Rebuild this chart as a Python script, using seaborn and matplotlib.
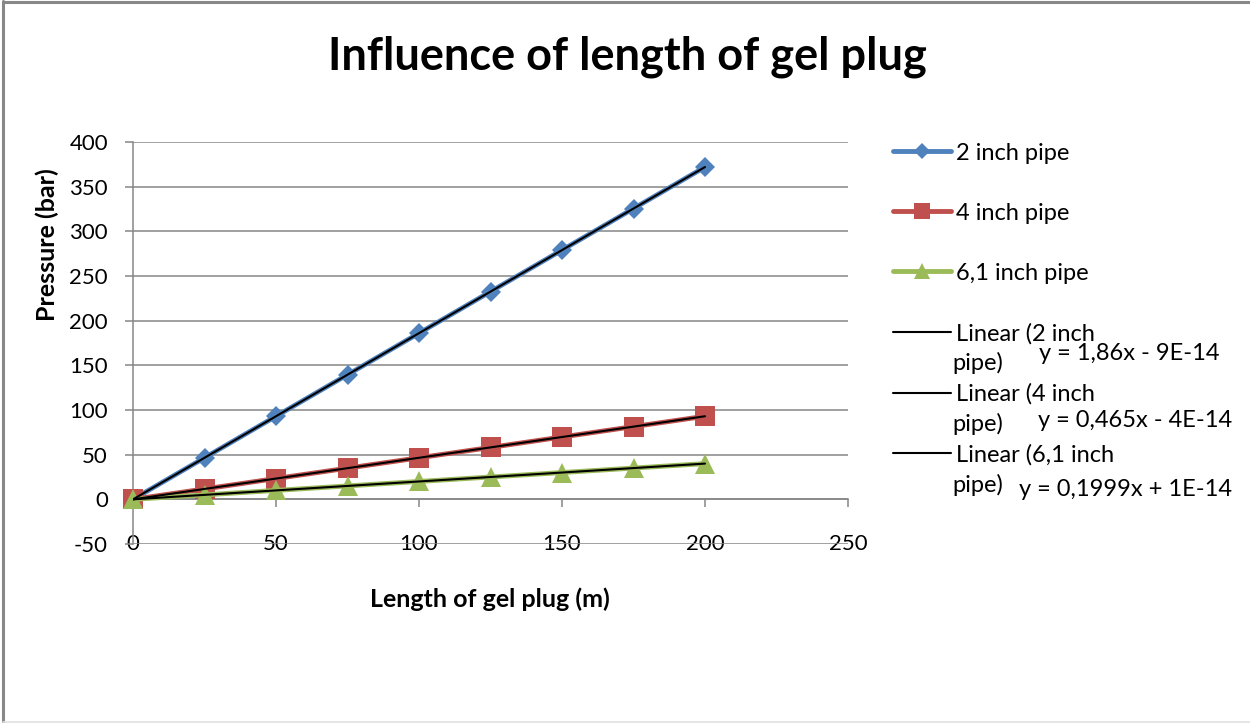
import matplotlib
matplotlib.use("Agg")
import matplotlib.pyplot as plt
from matplotlib.lines import Line2D
import seaborn as sns

# ---- data ----
length_m = [0, 25, 50, 75, 100, 125, 150, 175, 200]
p_2inch = [0, 46.5, 93, 139.5, 186, 232.5, 279, 325.5, 372]
p_4inch = [0, 11.6, 23.3, 34.9, 46.5, 58.1, 69.8, 81.4, 93]
p_61inch = [0, 5, 10, 15, 20, 25, 30, 35, 40]
series_labels = ["2 inch pipe", "4 inch pipe", "6,1 inch pipe"]
trend_labels = ["Linear (2 inch", "Linear (4 inch", "Linear (6,1 inch"]
trend_equations = ["y = 1,86x - 9E-14", "y = 0,465x - 4E-14", "y = 0,1999x + 1E-14"]
y_ticks = [-50, 0, 50, 100, 150, 200, 250, 300, 350, 400]
x_ticks = [0, 50, 100, 150, 200, 250]

sns.set_style("white")
plt.rcParams["font.family"] = ["Lato", "DejaVu Sans"]
for k in ["text.color", "axes.labelcolor", "xtick.labelcolor", "ytick.labelcolor"]:
    plt.rcParams[k] = "black"

W, H = 1250, 723
fig = plt.figure(figsize=(W / 100, H / 100), dpi=100)
fig.patch.set_facecolor("white")

def fx(px):
    return px / W

def fy(py):
    return 1 - py / H

ax = fig.add_axes([fx(133), fy(544), fx(848) - fx(133), fy(142) - fy(544)])

colors = ["#4F81BD", "#C0504D", "#9BBB59"]
markers = ["D", "s", "^"]
msizes = [10, 14, 14]
series = [p_2inch, p_4inch, p_61inch]

for ys, c, m, ms, lab in zip(series, colors, markers, msizes, series_labels):
    sns.lineplot(x=length_m, y=ys, ax=ax, color=c, marker=m, markersize=ms,
                 markeredgecolor=c, markeredgewidth=0, linewidth=3.5,
                 label=lab, clip_on=False, zorder=3)

for ys, lab in zip(series, trend_labels):
    sns.regplot(x=length_m, y=ys, ax=ax, scatter=False, ci=None, truncate=True,
                color="black", line_kws=dict(linewidth=1.5, zorder=5))
    ax.lines[-1].set_label(lab)

ax.set_xlim(0, 250)
ax.set_ylim(-50, 400)
ax.set_xticks(x_ticks)
ax.set_yticks(y_ticks)
ax.set_xticklabels([str(v) for v in x_ticks])
ax.set_yticklabels([str(v) for v in y_ticks])
ax.set_xlabel("")
ax.set_ylabel("")

grid_c = "#868686"
ax.grid(axis="y", color=grid_c, linewidth=1.1)
ax.grid(axis="x", visible=False)
ax.set_axisbelow(True)
for s in ["top", "right"]:
    ax.spines[s].set_visible(False)
ax.spines["left"].set_color(grid_c)
ax.spines["left"].set_linewidth(1.1)
ax.spines["bottom"].set_position(("data", 0))
ax.spines["bottom"].set_color(grid_c)
ax.spines["bottom"].set_linewidth(1.1)
ax.tick_params(axis="y", direction="out", length=6, width=1.1, color=grid_c,
               pad=12, labelsize=16, left=True, labelcolor="black")
ax.tick_params(axis="x", direction="out", length=6, width=1.1, color=grid_c,
               pad=19, labelsize=16, bottom=True, labelcolor="black")

fig.text(fx(490), fy(599), "Length of gel plug (m)", ha="center", va="center",
         fontsize=18, fontweight="bold")
fig.text(fx(47), fy(245), "Pressure (bar)", ha="center", va="center",
         fontsize=18, fontweight="bold", rotation=90)
fig.text(fx(627), fy(57), "Influence of length of gel plug", ha="center",
         va="center", fontsize=32.5, fontweight="bold")

# legend (outside at right)
FS = 17
handles, labels = ax.get_legend_handles_labels()
leg = ax.legend(handles, labels, loc="upper left",
                bbox_to_anchor=(fx(893), fy(142.5)), bbox_transform=fig.transFigure,
                frameon=False, fontsize=FS, labelspacing=1.655, handlelength=2.45,
                handletextpad=0.2, borderpad=0, borderaxespad=0)
for h in leg.legend_handles[:3]:
    h.set_markersize(h.get_markersize() * 0.8)

for py in [363, 424, 485]:
    fig.text(fx(952), fy(py), "pipe)", ha="left", va="center", fontsize=FS)
for (px, py), eq in zip([(1039, 354), (1038, 420), (1019, 489)], trend_equations):
    fig.text(fx(px), fy(py), eq, ha="left", va="center", fontsize=FS)

# chart border
fig.add_artist(Line2D([fx(3), fx(3)], [fy(1), fy(722)], color="#888888", linewidth=2.2))
fig.add_artist(Line2D([fx(3), fx(1250)], [fy(1.5), fy(1.5)], color="#888888", linewidth=2.2))
fig.add_artist(Line2D([fx(3), fx(1250)], [fy(722), fy(722)], color="#e0e0e0", linewidth=1.2))

fig.savefig("out.png", dpi=100, facecolor="white")
